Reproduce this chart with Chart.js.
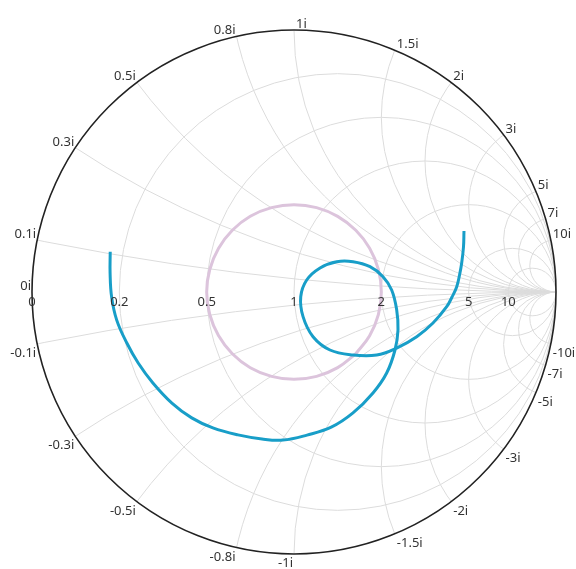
<!DOCTYPE html>
<html><head><meta charset="utf-8">
<script src="https://cdn.jsdelivr.net/npm/chart.js@4/dist/chart.umd.min.js"></script>
<style>html,body{margin:0;padding:0;background:#fff;overflow:hidden}</style>
</head><body>
<canvas id="c" width="576" height="569" style="display:block;width:576px;height:569px"></canvas>
<script>
// Tick values of the Smith chart
const resistanceTicks = [0, 0.2, 0.5, 1, 2, 5, 10];
const reactanceTicks = [0.1, 0.3, 0.5, 0.8, 1, 1.5, 2, 3, 5, 7, 10];

// Series 1 (blue spiral): normalized impedance r + jx
const series1Resistance = [0.166, 0.173, 0.179, 0.188, 0.204, 0.219, 0.237, 0.259, 0.285, 0.320,
  0.371, 0.426, 0.483, 0.582, 0.712, 0.905, 1.195, 1.518, 1.881, 2.135,
  2.248, 2.188, 2.005, 1.766, 1.525, 1.345, 1.198, 1.097, 1.052, 1.052,
  1.086, 1.175, 1.355, 1.601, 1.927, 2.411, 3.006, 3.709, 4.027, 4.264,
  4.269, 4.076, 3.580, 2.956];
const series1Reactance = [0.105, 0.050, -0.013, -0.076, -0.143, -0.207, -0.279, -0.364, -0.444, -0.523,
  -0.616, -0.713, -0.804, -0.909, -1.030, -1.135, -1.211, -1.205, -1.038, -0.754,
  -0.367, 0.039, 0.266, 0.376, 0.377, 0.324, 0.224, 0.101, -0.038, -0.200,
  -0.384, -0.558, -0.731, -0.914, -1.029, -1.094, -1.009, -0.633, -0.242, 0.281,
  0.928, 1.561, 2.228, 2.623];

// Series 2 (pink circle): normalized impedance r + jx
const series2Resistance = [1.390, 1.665, 1.903, 2.000, 1.903, 1.665, 1.390, 1.143, 0.947, 0.800,
  0.693, 0.615, 0.562, 0.527, 0.507, 0.500, 0.507, 0.527, 0.562, 0.615,
  0.693, 0.800, 0.947, 1.143, 1.390];
const series2Reactance = [-0.737, -0.625, -0.369, 0.000, 0.369, 0.625, 0.737, 0.742, 0.686, 0.600,
  0.502, 0.400, 0.298, 0.197, 0.098, 0.000, -0.098, -0.197, -0.298, -0.400,
  -0.502, -0.600, -0.686, -0.742, -0.737];

function toGamma(r, x) {
  const d = (r + 1) * (r + 1) + x * x;
  return { x: (r * r + x * x - 1) / d, y: 2 * x / d };
}
const pts = (R, X) => R.map((r, i) => toGamma(r, X[i]));

const FONT = "13px 'Noto Sans', 'DejaVu Sans', sans-serif";

const smithGrid = {
  id: 'smithGrid',
  beforeDatasetsDraw(chart) {
    const { ctx, scales: { x: sx, y: sy } } = chart;
    const px = v => sx.getPixelForValue(v), py = v => sy.getPixelForValue(v);
    const cx = px(0), cy = py(0), R = px(1) - px(0);
    ctx.save();
    ctx.beginPath(); ctx.arc(cx, cy, R, 0, Math.PI * 2); ctx.clip();
    ctx.strokeStyle = '#dcdcdc'; ctx.lineWidth = 1;
    resistanceTicks.forEach(r => {
      if (r === 0) return;
      const c = px(r / (1 + r)), rad = px(1 / (1 + r)) - px(0);
      ctx.beginPath(); ctx.arc(c, cy, rad, 0, Math.PI * 2); ctx.stroke();
    });
    reactanceTicks.forEach(x => {
      [x, -x].forEach(v => {
        const ccx = px(1), ccy = py(1 / v), rad = px(1 / Math.abs(v)) - px(0);
        ctx.beginPath(); ctx.arc(ccx, ccy, rad, 0, Math.PI * 2); ctx.stroke();
      });
    });
    ctx.restore();
    ctx.save();
    ctx.strokeStyle = '#222'; ctx.lineWidth = 1.6;
    ctx.beginPath(); ctx.arc(cx, cy, R, 0, Math.PI * 2); ctx.stroke();
    ctx.restore();
  },
  afterDatasetsDraw(chart) {
    const { ctx, scales: { x: sx, y: sy } } = chart;
    const px = v => sx.getPixelForValue(v), py = v => sy.getPixelForValue(v);
    const cy = py(0);
    ctx.save();
    ctx.font = FONT; ctx.fillStyle = '#333'; ctx.textBaseline = 'alphabetic';
    // resistance labels
    ctx.textAlign = 'center';
    resistanceTicks.forEach(r => {
      ctx.fillText(String(r), px((r - 1) / (r + 1)), cy + 14);
    });
    // reactance labels
    const vals = [0].concat(reactanceTicks, reactanceTicks.map(v => -v));
    vals.forEach(v => {
      const g = toGamma(0, v);
      let x = px(g.x), y = py(g.y);
      let right = g.x < -1e-9 || (Math.abs(g.x) <= 1e-9 && v < 0);
      ctx.textAlign = right ? 'right' : 'left';
      x += right ? -1 : 2;
      y += v >= 0 ? -2 : 13;
      ctx.fillText((v === 0 ? '0' : String(v)) + 'i', x, y);
    });
    ctx.restore();
  }
};

new Chart(document.getElementById('c'), {
  type: 'scatter',
  data: {
    datasets: [
      { label: 'Series 1', data: pts(series1Resistance, series1Reactance), showLine: true,
        borderColor: '#189ec8', borderWidth: 3, pointRadius: 0, tension: 0.4, fill: false, clip: false },
      { label: 'Series 2', data: pts(series2Resistance, series2Reactance), showLine: true,
        borderColor: '#dcc4dc', borderWidth: 3, pointRadius: 0, tension: 0.4, fill: false, clip: false }
    ]
  },
  options: {
    responsive: false, animation: false, devicePixelRatio: 1,
    layout: { padding: { left: 32, right: 20, top: 30, bottom: 15 } },
    scales: {
      x: { type: 'linear', min: -1, max: 1, display: false },
      y: { type: 'linear', min: -1, max: 1, display: false }
    },
    plugins: { legend: { display: false }, tooltip: { enabled: false } }
  },
  plugins: [smithGrid]
});
</script>
</body></html>
